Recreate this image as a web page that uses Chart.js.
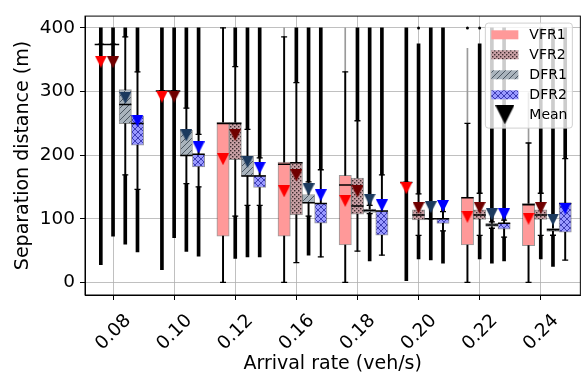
<!DOCTYPE html>
<html>
<head>
<meta charset="utf-8">
<script src="https://cdn.jsdelivr.net/npm/chart.js@4.4.1/dist/chart.umd.min.js"></script>
<style>
  html, body { margin: 0; padding: 0; background: #fff; }
  #wrap { width: 588px; height: 381px; }
</style>
</head>
<body>
<div id="wrap"><canvas id="chart1"></canvas></div>
<script>
var rates = ['0.08', '0.10', '0.12', '0.16', '0.18', '0.20', '0.22', '0.24'];
var seriesNames = ['VFR1', 'VFR2', 'DFR1', 'DFR2'];

// one row per series: VFR1, VFR2, DFR1, DFR2
var boxQ1 = [
    [374, 301, 72.7, 72.7, 58.6, 157, 58.6, 57.6],
    [374, 301, 193, 106, 107, 98, 99, 99],
    [249.6, 199.5, 167, 125, 110, 100, 87.7, 80],
    [215.5, 181.5, 149, 93, 74, 92.7, 83.7, 78.7]
];
var boxQ3 = [
    [374, 301, 251.6, 189, 168, 157, 134, 124],
    [374, 301, 251.6, 189, 164, 114, 114, 114],
    [303, 239, 198, 138, 115, 100, 92.7, 85],
    [261.7, 201.5, 168, 124, 112, 100, 92.7, 124]
];
var boxMed = [
    [374, 301, 249.6, 185.5, 153, 157, 133, 122],
    [374, 301, 249.6, 188, 120, 106, 106, 106],
    [279.7, 199.5, 167, 125, 113, 100, 90, 82.7],
    [249.6, 201.5, 167, 124, 112, 100, 92.7, 124]
];
var whiskLo = [
    [374, 301, 0, 0, 0, 157, 0, 0],
    [374, 301, 104, 31, 49, 73.7, 73.7, 73.7],
    [169, 155, 121, 104, 108, 100, 85, 74],
    [146, 150, 121, 40, 42.6, 81, 71, 35]
];
var whiskHi = [
    [374, 301, 400, 386, 331, 157, 250, 219],
    [374, 301, 339, 314, 254, 139, 140, 140],
    [386, 274, 240.6, 158, 121, 100, 95, 103],
    [331, 232.6, 195.5, 177, 169, 111, 97.7, 194.5]
];
// outliers shown as runs of points above / below the whiskers
var flierMax = [
    [400, 400, null, 400, 400, 400, 368, 298],
    [400, 400, 400, 400, 400, 375, 375, 400],
    [400, 400, 400, 400, 400, 400, 400, 400],
    [400, 400, 400, 400, 400, 400, 400, 400]
];
var flierMin = [
    [27.6, 20, null, null, null, 2.5, null, null],
    [72.7, 70, 37.6, null, null, 36.6, 36.6, 36.6],
    [60, 48.6, 40, 42.6, 33.6, 35, 30, 25],
    [47.6, 41, 40, null, null, 30, 33.6, null]
];
var flierSparse = [
    [false, false, false, true, true, false, true, true],
    [false, false, false, false, false, false, false, false],
    [false, false, false, false, false, false, false, false],
    [false, false, false, false, false, false, false, false]
];
var flierLone = [
    [null, null, null, null, null, null, 400, null],
    [null, null, null, null, null, 400, 400, null],
    [null, null, null, null, null, null, null, null],
    [null, null, null, null, null, null, null, null]
];
var meanVal = [
    [347, 292, 193.5, 143, 128, 148, 103, 100],
    [346, 292, 231.6, 168, 143, 117, 117, 117],
    [290, 231, 189.5, 146, 130, 118, 107, 98.7],
    [254, 212, 180, 137, 121, 120, 107, 116]
];

var seriesOffset = [-0.2, 0, 0.2, 0.4];
var meanColors = ['#ff0000', '#700000', '#1c3a5e', '#0000ff'];
var fontName = 'DejaVu Sans';

function makePattern(kind, bg, fg) {
    var c = document.createElement('canvas');
    var s = kind === 'dots' ? 4 : 6;
    c.width = s;
    c.height = s;
    var g = c.getContext('2d');
    g.fillStyle = bg;
    g.fillRect(0, 0, s, s);
    g.strokeStyle = fg;
    g.fillStyle = fg;
    g.lineWidth = 1;
    if (kind === 'dots') {
        g.fillRect(0, 0, 1.4, 1.4);
        g.fillRect(2, 2, 1.4, 1.4);
    } else if (kind === 'diag' || kind === 'cross') {
        g.beginPath();
        g.moveTo(-1, s + 1); g.lineTo(s + 1, -1);
        g.moveTo(-1, 1); g.lineTo(1, -1);
        g.moveTo(s - 1, s + 1); g.lineTo(s + 1, s - 1);
        if (kind === 'cross') {
            g.moveTo(-1, -1); g.lineTo(s + 1, s + 1);
            g.moveTo(s - 1, -1); g.lineTo(s + 1, 1);
            g.moveTo(-1, s - 1); g.lineTo(1, s + 1);
        }
        g.stroke();
    }
    return g.createPattern(c, 'repeat');
}

function makeTri(color, size) {
    var c = document.createElement('canvas');
    c.width = size;
    c.height = size;
    var g = c.getContext('2d');
    g.fillStyle = color;
    g.beginPath();
    g.moveTo(0, 0);
    g.lineTo(size, 0);
    g.lineTo(size / 2, size);
    g.closePath();
    g.fill();
    return c;
}

var boxFills = [
    '#ff9999',
    makePattern('dots', '#c9a0a5', '#3c2c2e'),
    makePattern('diag', '#a9b3bc', '#4a5560'),
    makePattern('cross', '#9999ff', '#3c3cb4')
];
var meanMarks = meanColors.map(function (c) { return makeTri(c, 12); });

var datasets = [];
for (var s = 0; s < seriesNames.length; s++) {
    var boxes = [], whiskers = [], caps = [], medians = [], dense = [], sparse = [], lone = [], means = [];
    for (var i = 0; i < rates.length; i++) {
        var x = i + 1 + seriesOffset[s];
        if (boxQ1[s][i] !== null) {
            boxes.push({x: x, y: [boxQ1[s][i], boxQ3[s][i]]});
            medians.push({x: x, y: boxMed[s][i]});
            whiskers.push({x: x, y: [boxQ3[s][i], whiskHi[s][i]]});
            whiskers.push({x: x, y: [whiskLo[s][i], boxQ1[s][i]]});
            caps.push({x: x, y: whiskHi[s][i]});
            caps.push({x: x, y: whiskLo[s][i]});
        }
        if (flierMax[s][i] !== null) {
            var seg = {x: x, y: [whiskHi[s][i], flierMax[s][i]]};
            if (flierSparse[s][i]) sparse.push(seg); else dense.push(seg);
        }
        if (flierMin[s][i] !== null) {
            dense.push({x: x, y: [flierMin[s][i], whiskLo[s][i]]});
        }
        if (flierLone[s][i] !== null) {
            lone.push({x: x, y: flierLone[s][i]});
        }
        means.push({x: x, y: meanVal[s][i]});
    }
    datasets.push({
        type: 'bar', label: seriesNames[s], data: boxes, order: 9,
        grouped: false, barThickness: 12.3, borderSkipped: false,
        backgroundColor: boxFills[s], borderColor: 'rgba(0,0,0,0.4)', borderWidth: 1
    });
    datasets.push({
        type: 'bar', label: seriesNames[s] + ' whiskers', data: whiskers, order: 5,
        grouped: false, barThickness: 1.3, borderWidth: 0, backgroundColor: '#000'
    });
    datasets.push({
        type: 'bar', label: seriesNames[s] + ' outliers', data: dense, order: 5,
        grouped: false, barThickness: 3, borderWidth: 0, backgroundColor: '#000'
    });
    datasets.push({
        type: 'bar', label: seriesNames[s] + ' sparse outliers', data: sparse, order: 5,
        grouped: false, barThickness: 1, borderWidth: 0, backgroundColor: '#9a9a9a'
    });
    datasets.push({
        type: 'scatter', label: seriesNames[s] + ' lone', data: lone, order: 4,
        pointStyle: 'circle', pointRadius: 1.5, backgroundColor: '#000', borderWidth: 0
    });
    datasets.push({
        type: 'scatter', label: seriesNames[s] + ' caps', data: caps, order: 4,
        pointStyle: 'line', pointRadius: 3, borderColor: '#000', borderWidth: 1.3
    });
    datasets.push({
        type: 'scatter', label: seriesNames[s] + ' median', data: medians, order: 3,
        pointStyle: 'line', pointRadius: 6.15, borderColor: '#000', borderWidth: 1.5
    });
    datasets.push({
        type: 'scatter', label: seriesNames[s] + ' mean', data: means, order: 1,
        pointStyle: meanMarks[s], backgroundColor: meanColors[s]
    });
}

var framePlugin = {
    id: 'frame',
    afterDatasetsDraw: function (chart) {
        var a = chart.chartArea, ctx = chart.ctx;
        ctx.save();
        ctx.strokeStyle = '#000';
        ctx.lineWidth = 1;
        ctx.strokeRect(a.left, a.top, a.right - a.left, a.bottom - a.top);
        ctx.restore();
    }
};

function roundBox(ctx, x, y, w, h, r) {
    ctx.beginPath();
    ctx.moveTo(x + r, y);
    ctx.lineTo(x + w - r, y);
    ctx.arcTo(x + w, y, x + w, y + r, r);
    ctx.lineTo(x + w, y + h - r);
    ctx.arcTo(x + w, y + h, x + w - r, y + h, r);
    ctx.lineTo(x + r, y + h);
    ctx.arcTo(x, y + h, x, y + h - r, r);
    ctx.lineTo(x, y + r);
    ctx.arcTo(x, y, x + r, y, r);
    ctx.closePath();
}

var legendPlugin = {
    id: 'boxLegend',
    afterDraw: function (chart) {
        var a = chart.chartArea, ctx = chart.ctx;
        var w = 87, h = 105;
        var x0 = a.right - w - 8, y0 = a.top + 7;
        ctx.save();
        roundBox(ctx, x0, y0, w, h, 3);
        ctx.fillStyle = 'rgba(255,255,255,0.8)';
        ctx.fill();
        ctx.strokeStyle = '#d0d0d0';
        ctx.lineWidth = 1;
        ctx.stroke();
        ctx.font = '14px "' + fontName + '"';
        ctx.textBaseline = 'middle';
        ctx.textAlign = 'left';
        var labels = seriesNames.concat(['Mean']);
        for (var k = 0; k < labels.length; k++) {
            var cy = y0 + 11.7 + k * 20;
            if (k < seriesNames.length) {
                ctx.fillStyle = boxFills[k];
                ctx.fillRect(x0 + 6, cy - 4.5, 27, 9);
            } else {
                var tri = makeTri('#000', 19);
                ctx.drawImage(tri, x0 + 19.5 - 9.5, cy - 9.5);
            }
            ctx.fillStyle = '#000';
            ctx.fillText(labels[k], x0 + 44, cy + 0.5);
        }
        ctx.restore();
    }
};

new Chart(document.getElementById('chart1'), {
    type: 'bar',
    data: {datasets: datasets},
    plugins: [framePlugin, legendPlugin],
    options: {
        responsive: true,
        maintainAspectRatio: false,
        animation: false,
        layout: {padding: {top: 3, right: 3, left: 0, bottom: 0}},
        plugins: {legend: {display: false}, tooltip: {enabled: false}},
        scales: {
            x: {
                type: 'linear',
                min: 0.541,
                max: 8.648,
                offset: false,
                afterBuildTicks: function (axis) {
                    axis.ticks = rates.map(function (r, i) { return {value: i + 1}; });
                },
                afterFit: function (axis) { axis.height = 86; },
                ticks: {
                    autoSkip: false,
                    minRotation: 45,
                    maxRotation: 45,
                    padding: 10,
                    labelOffset: 15,
                    color: '#000',
                    font: {family: fontName, size: 18.5},
                    callback: function (value) { return rates[value - 1]; }
                },
                grid: {color: '#b0b0b0', lineWidth: 0.8, tickColor: '#000', tickWidth: 1, tickLength: 5, offset: false},
                border: {color: '#000', width: 1},
                title: {
                    display: true, text: 'Arrival rate (veh/s)', color: '#000',
                    font: {family: fontName, size: 19}, padding: {top: 0, bottom: 6}
                }
            },
            y: {
                type: 'linear',
                min: -20,
                max: 418.6,
                afterBuildTicks: function (axis) {
                    axis.ticks = [0, 100, 200, 300, 400].map(function (v) { return {value: v}; });
                },
                afterFit: function (axis) { axis.width = 85; },
                ticks: {
                    padding: 5,
                    color: '#000',
                    font: {family: fontName, size: 18.5}
                },
                grid: {color: '#b0b0b0', lineWidth: 0.8, tickColor: '#000', tickWidth: 1, tickLength: 5},
                border: {color: '#000', width: 1},
                title: {
                    display: true, text: 'Separation distance (m)', color: '#000',
                    font: {family: fontName, size: 19}, padding: {top: 12, bottom: 0}
                }
            }
        }
    }
});
</script>
</body>
</html>
